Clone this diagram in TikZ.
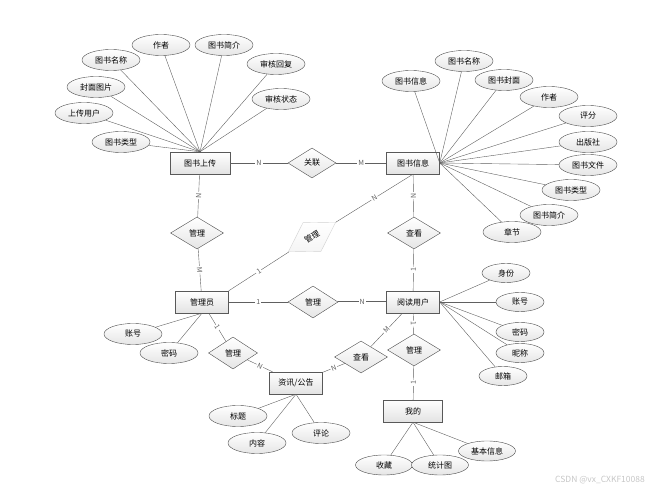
\documentclass[tikz,border=0pt]{standalone}
\usepackage{fontspec}
\newfontfamily\cjk{Noto Sans CJK SC}
\usetikzlibrary{shapes.geometric}
\begin{document}
\begin{tikzpicture}[x=1pt,y=-1pt,font=\cjk\fontsize{8}{9}\selectfont,
 entity/.style={rectangle,draw=gray!70!black,top color=white,bottom color=gray!22,minimum width=53,minimum height=22,inner sep=0},
 attr/.style={ellipse,draw=gray!60!black,top color=white,bottom color=gray!20,minimum width=58,minimum height=21,inner sep=0},
 rel/.style={diamond,draw=gray!60!black,top color=white,bottom color=gray!20,minimum width=53,minimum height=32,inner sep=0},
 link/.style={gray!75!black},
 lbl/.style={fill=white,inner sep=1pt,sloped,font=\cjk\fontsize{7}{8}\selectfont}]
\useasboundingbox(0,0)rectangle(662,494);
% entities
\node[entity,minimum width=60](up)at(200,163){图书上传};
\node[entity](info)at(413,163){图书信息};
\node[entity](admin)at(202,302){管理员};
\node[entity](reader)at(413,302){阅读用户};
\node[entity](news)at(296,383){资讯/公告};
\node[entity,minimum width=59](mine)at(413,411){我的};
% relations
\node[rel,minimum width=48,minimum height=30](gl1)at(312,163){关联};
\node[rel](gl2)at(197,233){管理};
\node[rel,rotate=32,minimum width=56,minimum height=34,draw=gray!35,bottom color=gray!8](gl3)at(312,237){管理};
\node[rel](ck1)at(414,233){查看};
\node[rel,minimum width=50](gl4)at(313,302){管理};
\node[rel,minimum width=49](gl5)at(233,353){管理};
\node[rel](ck2)at(361,357){查看};
\node[rel](gl6)at(414,350){管理};
% attributes
\foreach \n/\x/\y/\t in {a/111/60/图书名称,b/161/45/作者,c/224/45/图书简介,d/276/64/审核回复,e/96/87/封面图片,f/281/99/审核状态,g/84/113/上传用户,h/121/142/图书类型}{\node[attr](u\n)at(\x,\y){\t};\draw[link](u\n)--(up.north);}
\foreach \n/\x/\y/\t in {a/411/81/图书信息,b/464/61/图书名称,c/504/80/图书封面,d/549/97/作者,e/588/116/评分,f/588/142/出版社,g/588/165/图书文件,h/571/190/图书类型,i/549/215/图书简介,j/512/232/章节}{\node[attr](i\n)at(\x,\y){\t};\draw[link](i\n)--(info.east);}
\foreach \n/\x/\y/\t in {a/506/273/身份,b/520/302/账号,c/520/332/密码,d/520/353/昵称,e/503/376/邮箱}{\node[attr,minimum width=48,minimum height=19](r\n)at(\x,\y){\t};\draw[link](r\n)--(reader.east);}
\foreach \n/\x/\y/\t in {a/133/334/账号,b/169/353/密码}{\node[attr](a\n)at(\x,\y){\t};\draw[link](a\n)--(admin.south);}
\foreach \n/\x/\y/\t in {a/238/416/标题,b/257/443/内容,c/321/433/评论}{\node[attr](n\n)at(\x,\y){\t};\draw[link](n\n)--(news.south);}
\foreach \n/\x/\y/\t in {a/384/465/收藏,b/440/465/统计图,c/487/451/基本信息}{\node[attr,minimum width=57,minimum height=20](m\n)at(\x,\y){\t};\draw[link](m\n)--(mine.south);}
% relationships
\draw[link](up)--node[lbl]{N}(gl1);\draw[link](gl1)--node[lbl]{M}(info);
\draw[link](up)--node[lbl]{N}(gl2);\draw[link](gl2)--node[lbl]{M}(admin);
\draw[link](admin.north east)--node[lbl]{1}(gl3);\draw[link](gl3)--node[lbl]{N}(info.south);
\draw[link](info)--node[lbl]{N}(ck1);\draw[link](ck1)--node[lbl]{1}(reader);
\draw[link](admin)--node[lbl]{1}(gl4);\draw[link,line width=1pt](gl4)--node[lbl]{N}(reader);
\draw[link](admin)--node[lbl]{1}(gl5);\draw[link](gl5)--node[lbl]{N}(news);
\draw[link](news)--node[lbl]{N}(ck2);\draw[link](ck2)--node[lbl]{M}(reader);
\draw[link](reader)--node[lbl]{1}(gl6);\draw[link](gl6)--node[lbl]{1}(mine);
\node[gray!45,font=\cjk\fontsize{8.5}{9}\selectfont](wm)at(600,480){CSDN @vx\_CXKF10088};
\end{tikzpicture}
\end{document}
